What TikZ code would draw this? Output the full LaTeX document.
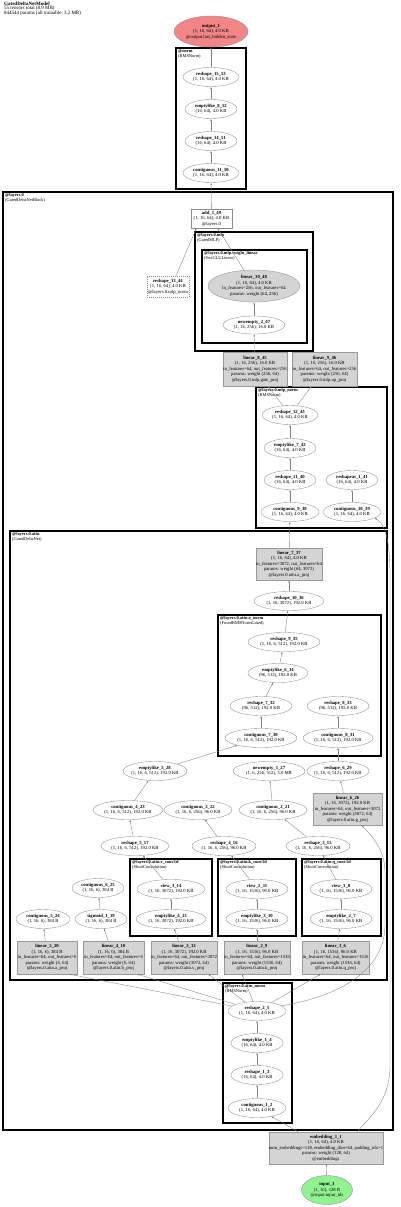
\documentclass[tikz,border=0pt]{standalone}
\usepackage{fontspec}
\setmainfont{Liberation Serif}
\usetikzlibrary{arrows.meta,shapes.geometric}
\tikzset{
 ell/.style={ellipse, draw=black!45, line width=0.35pt, inner sep=0pt},
 gbox/.style={rectangle, draw=black!40, fill=black!17, line width=0.35pt, inner sep=0pt},
 txt/.style={align=center, inner sep=0pt, font=\fontsize{4.7}{5.5}\selectfont},
 clus/.style={draw=black, line width=1.1pt},
 clab/.style={anchor=north west, align=left, inner sep=0pt, font=\fontsize{4.4}{4.5}\selectfont},
 edge/.style={draw=black!50, line width=0.35pt, -{Latex[length=2.2pt,width=1.7pt]}},
}
\newcommand\EN[7]{\node[ell,#7,minimum width=#4,minimum height=#5] (#1) at (#2,#3) {};\node[txt] (#1-t) at (#1) {#6};}
\newcommand\BN[7]{\node[gbox,#7,minimum width=#4,minimum height=#5] (#1) at (#2,#3) {};\node[txt] (#1-t) at (#1) {#6};}
\newcommand\CL[6]{\draw[clus] (#2,#3) rectangle (#4,#5);\node[clab] (#1) at (#2+2,#3+1.5) {#6};}
\newcommand\tl[2]{\textbf{#1}\\#2}
\begin{document}
\begin{tikzpicture}[x=1pt,y=-1pt]
\useasboundingbox (0,0) rectangle (400,1207);
\node[anchor=north west, align=left, inner sep=0pt, font=\fontsize{5}{4.6}\selectfont] (hdr) at (4,1.5)
 {\textbf{GatedDeltaNetModel}\\55 tensors total (8.9 MB)\\844544 params (all trainable, 3.2 MB)};
% clusters
\CL{c-norm}{176}{48}{246}{189}{\textbf{@norm}\\(RMSNorm)}
\CL{c-l0}{3}{192}{393}{1130}{\textbf{@layers.0}\\(GatedDeltaNetBlock)}
\CL{c-mlp}{195}{232}{313}{351}{\textbf{@layers.0.mlp}\\(GatedMLP)}
\CL{c-swi}{202}{250}{307}{343}{\textbf{@layers.0.mlp.swiglu\_linear}\\(SwiGLULinear)}
\CL{c-mlpn}{256}{387}{387}{528}{\textbf{@layers.0.mlp\_norm}\\(RMSNorm)}
\CL{c-attn}{10}{531}{387}{980}{\textbf{@layers.0.attn}\\(GatedDeltaNet)}
\CL{c-onorm}{218}{615}{381}{756}{\textbf{@layers.0.attn.o\_norm}\\(FusedRMSNormGated)}
\CL{c-v}{130}{859}{212}{936}{\textbf{@layers.0.attn.v\_conv1d}\\(ShortConvolution)}
\CL{c-k}{218}{859}{296}{936}{\textbf{@layers.0.attn.k\_conv1d}\\(ShortConvolution)}
\CL{c-q}{302}{859}{381}{936}{\textbf{@layers.0.attn.q\_conv1d}\\(ShortConvolution)}
\CL{c-an}{223}{983}{292}{1123}{\textbf{@layers.0.attn\_norm}\\(RMSNorm)}
% nodes
\EN{output_1}{211}{31.5}{74}{31}{\tl{output\_1}{(1, 16, 64), 4.0 KB\\@output.last\_hidden\_state}}{fill=red!45!white!95!black}
\EN{reshape_15_53}{211}{77}{56}{19}{\tl{reshape\_15\_53}{(1, 16, 64), 4.0 KB}}{}
\EN{emptylike_8_52}{211}{109}{52}{19}{\tl{emptylike\_8\_52}{(16, 64), 4.0 KB}}{}
\EN{reshape_14_51}{211}{141}{52}{19}{\tl{reshape\_14\_51}{(16, 64), 4.0 KB}}{}
\EN{contiguous_11_50}{211}{173}{56}{19}{\tl{contiguous\_11\_50}{(1, 16, 64), 4.0 KB}}{}
\node[rectangle, draw=black!45, line width=0.35pt, minimum width=41, minimum height=19, inner sep=0pt] (add_1_49) at (211.5,218.5) {};
\node[txt] (add_1_49-t) at (add_1_49) {\tl{add\_1\_49}{(1, 16, 64), 4.0 KB\\@layers.0}};
\EN{linear_10_48}{254}{286}{92}{32}{\tl{linear\_10\_48}{(1, 16, 64), 4.0 KB\\in\_features=256, out\_features=64\\params: weight (64, 256)}}{fill=black!17}
\EN{newempty_2_47}{254}{325}{62}{18}{\tl{newempty\_2\_47}{(1, 16, 256), 16.0 KB}}{}
\node[rectangle, draw=black!45, dash pattern=on 1pt off 1pt, line width=0.35pt, minimum width=42, minimum height=21, inner sep=0pt] (reshape_13_44) at (168,286.5) {};
\node[txt] (reshape_13_44-t) at (reshape_13_44) {\tl{reshape\_13\_44}{(1, 16, 64), 4.0 KB\\@layers.0.mlp\_norm}};
\BN{linear_8_45}{255}{369}{64}{34}{\tl{linear\_8\_45}{(1, 16, 256), 16.0 KB\\in\_features=64, out\_features=256\\params: weight (256, 64)\\@layers.0.mlp.gate\_proj}}{}
\BN{linear_9_46}{324.5}{369}{65}{34}{\tl{linear\_9\_46}{(1, 16, 256), 16.0 KB\\in\_features=64, out\_features=256\\params: weight (256, 64)\\@layers.0.mlp.up\_proj}}{}
\EN{reshape_12_43}{290}{415}{56}{19}{\tl{reshape\_12\_43}{(1, 16, 64), 4.0 KB}}{}
\EN{emptylike_7_42}{290}{448}{52}{19}{\tl{emptylike\_7\_42}{(16, 64), 4.0 KB}}{}
\EN{reshape_11_40}{290}{480}{52}{19}{\tl{reshape\_11\_40}{(16, 64), 4.0 KB}}{}
\EN{reshapeas_1_41}{352}{480}{52}{19}{\tl{reshapeas\_1\_41}{(16, 64), 4.0 KB}}{}
\EN{contiguous_9_38}{290}{512}{58}{19}{\tl{contiguous\_9\_38}{(1, 16, 64), 4.0 KB}}{}
\EN{contiguous_10_39}{352}{512}{58}{19}{\tl{contiguous\_10\_39}{(1, 16, 64), 4.0 KB}}{}
\BN{linear_7_37}{289}{564}{66}{32}{\tl{linear\_7\_37}{(1, 16, 64), 4.0 KB\\in\_features=3072, out\_features=64\\params: weight (64, 3072)\\@layers.0.attn.o\_proj}}{}
\EN{reshape_10_36}{289}{601}{70}{19}{\tl{reshape\_10\_36}{(1, 16, 3072), 192.0 KB}}{}
\EN{reshape_9_35}{284}{642}{72}{19}{\tl{reshape\_9\_35}{(1, 16, 6, 512), 192.0 KB}}{}
\EN{emptylike_6_34}{278}{673}{60}{19}{\tl{emptylike\_6\_34}{(96, 512), 192.0 KB}}{}
\EN{reshape_7_32}{261}{706}{62}{19}{\tl{reshape\_7\_32}{(96, 512), 192.0 KB}}{}
\EN{reshape_8_33}{338}{706}{62}{19}{\tl{reshape\_8\_33}{(96, 512), 192.0 KB}}{}
\EN{contiguous_7_30}{261}{738}{72}{19}{\tl{contiguous\_7\_30}{(1, 16, 6, 512), 192.0 KB}}{}
\EN{contiguous_8_31}{338}{738}{70}{19}{\tl{contiguous\_8\_31}{(1, 16, 6, 512), 192.0 KB}}{}
\EN{emptylike_5_28}{155}{771}{64}{19}{\tl{emptylike\_5\_28}{(1, 16, 6, 512), 192.0 KB}}{}
\EN{newempty_1_27}{269}{771}{72}{19}{\tl{newempty\_1\_27}{(1, 6, 256, 512), 3.0 MB}}{}
\EN{reshape_6_29}{338}{771}{62}{19}{\tl{reshape\_6\_29}{(1, 16, 6, 512), 192.0 KB}}{}
\BN{linear_6_26}{347.5}{809}{69}{32}{\tl{linear\_6\_26}{(1, 16, 3072), 192.0 KB\\in\_features=64, out\_features=3072\\params: weight (3072, 64)\\@layers.0.attn.g\_proj}}{}
\EN{contiguous_4_23}{128}{810}{70}{19}{\tl{contiguous\_4\_23}{(1, 16, 6, 512), 192.0 KB}}{}
\EN{contiguous_3_22}{198}{810}{68}{19}{\tl{contiguous\_3\_22}{(1, 16, 6, 256), 96.0 KB}}{}
\EN{contiguous_2_21}{273}{810}{68}{19}{\tl{contiguous\_2\_21}{(1, 16, 6, 256), 96.0 KB}}{}
\EN{reshape_5_17}{135}{846}{68}{19}{\tl{reshape\_5\_17}{(1, 16, 6, 512), 192.0 KB}}{}
\EN{reshape_4_16}{224}{846}{64}{19}{\tl{reshape\_4\_16}{(1, 16, 6, 256), 96.0 KB}}{}
\EN{reshape_3_15}{318}{846}{64}{19}{\tl{reshape\_3\_15}{(1, 16, 6, 256), 96.0 KB}}{}
\EN{view_3_14}{171}{889}{68}{19}{\tl{view\_3\_14}{(1, 16, 3072), 192.0 KB}}{}
\EN{view_2_11}{257}{889}{62}{19}{\tl{view\_2\_11}{(1, 16, 1536), 96.0 KB}}{}
\EN{view_1_8}{341}{889}{62}{19}{\tl{view\_1\_8}{(1, 16, 1536), 96.0 KB}}{}
\EN{emptylike_4_13}{171}{919}{70}{19}{\tl{emptylike\_4\_13}{(1, 16, 3072), 192.0 KB}}{}
\EN{emptylike_3_10}{257}{919}{62}{19}{\tl{emptylike\_3\_10}{(1, 16, 1536), 96.0 KB}}{}
\EN{emptylike_2_7}{341}{919}{62}{19}{\tl{emptylike\_2\_7}{(1, 16, 1536), 96.0 KB}}{}
\EN{contiguous_6_25}{98}{888}{52}{19}{\tl{contiguous\_6\_25}{(1, 16, 6), 384 B}}{}
\EN{contiguous_5_24}{43}{919}{54}{19}{\tl{contiguous\_5\_24}{(1, 16, 6), 384 B}}{}
\EN{sigmoid_1_19}{101}{919}{52}{19}{\tl{sigmoid\_1\_19}{(1, 16, 6), 384 B}}{}
\BN{linear_5_20}{47}{957.5}{60}{33}{\tl{linear\_5\_20}{(1, 16, 6), 384 B\\in\_features=64, out\_features=6\\params: weight (6, 64)\\@layers.0.attn.a\_proj}}{}
\BN{linear_4_18}{113.5}{957.5}{61}{33}{\tl{linear\_4\_18}{(1, 16, 6), 384 B\\in\_features=64, out\_features=6\\params: weight (6, 64)\\@layers.0.attn.b\_proj}}{}
\BN{linear_3_12}{184}{957.5}{66}{33}{\tl{linear\_3\_12}{(1, 16, 3072), 192.0 KB\\in\_features=64, out\_features=3072\\params: weight (3072, 64)\\@layers.0.attn.v\_proj}}{}
\BN{linear_2_9}{257}{957.5}{66}{33}{\tl{linear\_2\_9}{(1, 16, 1536), 96.0 KB\\in\_features=64, out\_features=1536\\params: weight (1536, 64)\\@layers.0.attn.k\_proj}}{}
\BN{linear_1_6}{335.5}{957.5}{67}{33}{\tl{linear\_1\_6}{(1, 16, 1536), 96.0 KB\\in\_features=64, out\_features=1536\\params: weight (1536, 64)\\@layers.0.attn.q\_proj}}{}
\EN{reshape_2_5}{257}{1011}{58}{19}{\tl{reshape\_2\_5}{(1, 16, 64), 4.0 KB}}{}
\EN{emptylike_1_4}{257}{1043}{52}{19}{\tl{emptylike\_1\_4}{(16, 64), 4.0 KB}}{}
\EN{reshape_1_3}{257}{1075}{52}{19}{\tl{reshape\_1\_3}{(16, 64), 4.0 KB}}{}
\EN{contiguous_1_2}{257}{1108}{58}{19}{\tl{contiguous\_1\_2}{(1, 16, 64), 4.0 KB}}{}
\BN{embedding_1_1}{326}{1148}{114}{32}{\tl{embedding\_1\_1}{(1, 16, 64), 4.0 KB\\num\_embeddings=128, embedding\_dim=64, padding\_idx=1\\params: weight (128, 64)\\@embeddings}}{}
\EN{input_1}{327}{1190}{51}{29}{\tl{input\_1}{(1, 16), 128 B\\@input.input\_ids}}{fill=green!40!white!95!black}
% edges
\draw[edge] (input_1) -- (embedding_1_1);
\draw[edge] (embedding_1_1) -- (contiguous_1_2);
\draw[edge] (contiguous_1_2) -- (reshape_1_3);
\draw[edge] (reshape_1_3) -- (emptylike_1_4);
\draw[edge] (emptylike_1_4) -- (reshape_2_5);
\draw[edge] (reshape_2_5) -- ([xshift=-8pt]linear_5_20.south east);
\draw[edge] (reshape_2_5) -- ([xshift=-7pt]linear_4_18.south east);
\draw[edge] (reshape_2_5) -- ([xshift=-9pt]linear_3_12.south east);
\draw[edge] (reshape_2_5) -- ([xshift=-15pt]linear_2_9.south);
\draw[edge] (reshape_2_5) -- ([xshift=-15pt]linear_1_6.south);
\draw[edge] (reshape_2_5.12) .. controls (330,998) and (385,975) .. (385,925) -- (385,872) .. controls (385,850) and (372,836) .. ([xshift=14pt]linear_6_26.south);
\draw[edge] (linear_5_20) -- (contiguous_5_24);
\draw[edge] (linear_4_18) -- (sigmoid_1_19);
\draw[edge] (sigmoid_1_19) -- (contiguous_6_25);
\draw[edge] (linear_3_12) -- (emptylike_4_13);
\draw[edge] (linear_2_9) -- (emptylike_3_10);
\draw[edge] (linear_1_6) -- (emptylike_2_7);
\draw[edge] (emptylike_4_13) -- (view_3_14);
\draw[edge] (emptylike_3_10) -- (view_2_11);
\draw[edge] (emptylike_2_7) -- (view_1_8);
\draw[edge] (view_3_14) -- (reshape_5_17);
\draw[edge] (view_2_11) -- (reshape_4_16);
\draw[edge] (view_1_8) -- (reshape_3_15);
\draw[edge] (reshape_5_17) -- (contiguous_4_23);
\draw[edge] (reshape_4_16) -- (contiguous_3_22);
\draw[edge] (reshape_3_15) -- (contiguous_2_21);
\draw[edge] (contiguous_4_23) -- (emptylike_5_28);
\draw[edge] (contiguous_2_21) -- (newempty_1_27);
\draw[edge] (linear_6_26) -- (reshape_6_29);
\draw[edge] (reshape_6_29) -- (contiguous_8_31);
\draw[edge] (contiguous_8_31) -- (reshape_8_33);
\draw[edge] (emptylike_5_28) -- (contiguous_7_30);
\draw[edge] (contiguous_7_30) -- (reshape_7_32);
\draw[edge] (reshape_7_32) -- (emptylike_6_34);
\draw[edge] (emptylike_6_34) -- (reshape_9_35);
\draw[edge] (reshape_9_35) -- (reshape_10_36);
\draw[edge] (reshape_10_36) -- (linear_7_37);
\draw[edge] (linear_7_37) -- (contiguous_9_38);
\draw[edge] ([xshift=31pt]embedding_1_1.north) .. controls (372,1115) and (390,1100) .. (390,1065) -- (390,575) .. controls (390,540) and (385,524) .. (contiguous_10_39.-15);
\draw[edge] (contiguous_10_39) -- (reshapeas_1_41);
\draw[edge] (contiguous_9_38) -- (reshape_11_40);
\draw[edge] (reshape_11_40) -- (emptylike_7_42);
\draw[edge] (emptylike_7_42) -- (reshape_12_43);
\draw[edge] (reshape_12_43) -- (linear_8_45);
\draw[edge] (reshape_12_43) -- (linear_9_46);
\draw[edge] (linear_8_45) -- (newempty_2_47);
\draw[edge] (newempty_2_47) -- (linear_10_48);
\draw[edge] (linear_10_48) -- (add_1_49);
\draw[edge] ([xshift=8pt]reshape_13_44.north) -- ([xshift=-15pt]add_1_49.south);
\draw[edge] (add_1_49) -- (contiguous_11_50);
\draw[edge] (contiguous_11_50) -- (reshape_14_51);
\draw[edge] (reshape_14_51) -- (emptylike_8_52);
\draw[edge] (emptylike_8_52) -- (reshape_15_53);
\draw[edge] (reshape_15_53) -- (output_1);
\end{tikzpicture}
\end{document}
